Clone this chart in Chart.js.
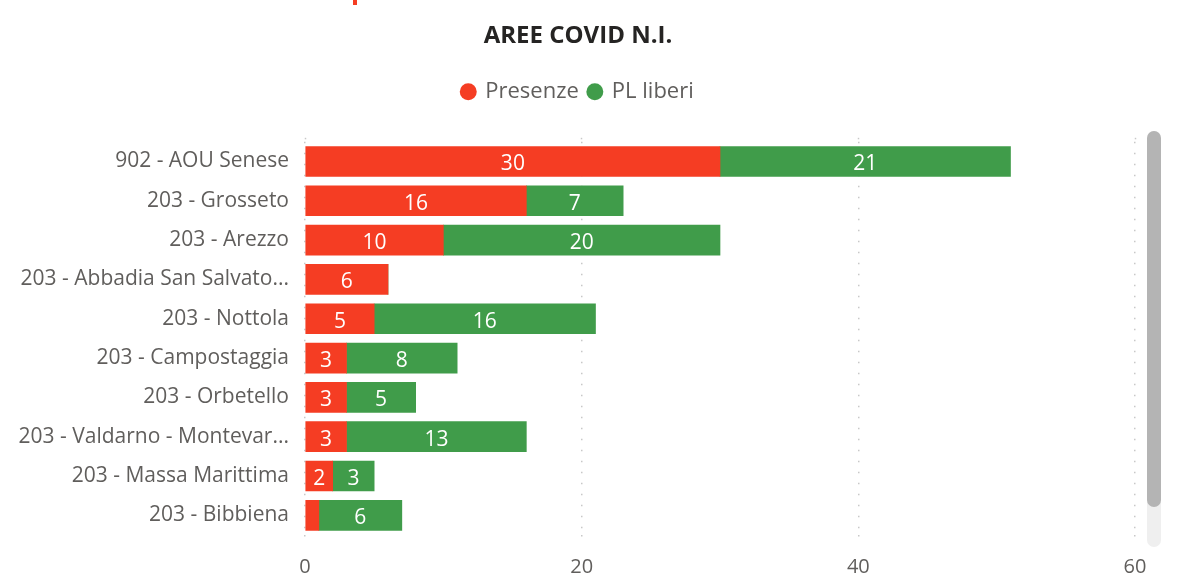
<!DOCTYPE html>
<html>
<head>
<meta charset="utf-8">
<title>Aree Covid N.I.</title>
<script src="https://cdn.jsdelivr.net/npm/chart.js@4.4.0/dist/chart.umd.min.js"></script>
<style>
    body { margin: 0; background: #fff; overflow: hidden; width: 1194px; height: 574px; position: relative; }
    #wrap { position: absolute; left: 0; top: 0; width: 1156px; height: 590px; }
    /* cut-off element above the visual */
    #topMark { position: absolute; left: 353px; top: 0; width: 4px; height: 5px; background: #F53D23; }
    /* scroll bar of the visual */
    #track { position: absolute; left: 1147px; top: 131px; width: 14px; height: 416px; background: #efefef; border-radius: 7px; }
    #thumb { position: absolute; left: 1147px; top: 131px; width: 14px; height: 376px; background: #b4b4b4; border-radius: 7px; }
</style>
</head>
<body>
<div id="topMark"></div>
<div id="wrap"><canvas id="covidChart"></canvas></div>
<div id="track"></div>
<div id="thumb"></div>
<script>
// Data
const categories = [
    '902 - AOU Senese',
    '203 - Grosseto',
    '203 - Arezzo',
    '203 - Abbadia San Salvato...',
    '203 - Nottola',
    '203 - Campostaggia',
    '203 - Orbetello',
    '203 - Valdarno - Montevar...',
    '203 - Massa Marittima',
    '203 - Bibbiena'
];
const presenze = [30, 16, 10, 6, 5, 3, 3, 3, 2, 1];
const plLiberi = [21, 7, 20, 0, 16, 8, 5, 13, 3, 6];
const xTicks = [0, 20, 40, 60];

const RED = '#F53D23';
const GREEN = '#409C4A';
const GREY_TEXT = '#605E5C';
const GRID = '#c8c8c8';
const DOTS = [1.5, 9.5];
const FONT = "'Open Sans', 'Noto Sans', sans-serif";

// White value labels inside each bar segment
const valueLabels = {
    id: 'valueLabels',
    afterDatasetsDraw(chart) {
        const ctx = chart.ctx;
        ctx.save();
        ctx.fillStyle = '#fff';
        ctx.font = `21px ${FONT}`;
        ctx.textAlign = 'center';
        ctx.textBaseline = 'middle';
        chart.data.datasets.forEach((ds, i) => {
            const meta = chart.getDatasetMeta(i);
            meta.data.forEach((bar, j) => {
                const v = ds.data[j];
                if (!v) return;
                const w = Math.abs(bar.x - bar.base);
                if (w < 20) return;
                ctx.fillText(String(v), (bar.x + bar.base) / 2, bar.y + 3);
            });
        });
        ctx.restore();
    }
};

document.addEventListener('DOMContentLoaded', () => {
    const ctx = document.getElementById('covidChart');
    new Chart(ctx, {
        type: 'bar',
        data: {
            labels: categories,
            datasets: [
                { label: 'Presenze', data: presenze, backgroundColor: RED, barThickness: 30, xAxisID: 'x', yAxisID: 'y' },
                { label: 'PL liberi', data: plLiberi, backgroundColor: GREEN, barThickness: 30, xAxisID: 'x', yAxisID: 'y' }
            ]
        },
        options: {
            indexAxis: 'y',
            responsive: true,
            maintainAspectRatio: false,
            animation: false,
            layout: { padding: { left: 0, right: 0, top: 0, bottom: 5 } },
            plugins: {
                title: {
                    display: true,
                    text: 'AREE COVID N.I.',
                    color: '#252423',
                    font: { family: FONT, size: 24, weight: 'bold' },
                    padding: { top: 22, bottom: 20 }
                },
                legend: {
                    display: true,
                    labels: {
                        usePointStyle: true,
                        pointStyle: 'circle',
                        boxWidth: 12,
                        boxHeight: 12,
                        color: GREY_TEXT,
                        font: { family: FONT, size: 22 },
                        padding: 10
                    }
                },
                tooltip: { enabled: false }
            },
            scales: {
                x: {
                    stacked: true,
                    min: 0,
                    max: 60,
                    afterBuildTicks: (scale) => {
                        scale.ticks = xTicks.map(v => ({ value: v }));
                    },
                    afterFit: (scale) => { scale.height = 50; },
                    border: { display: false, dash: DOTS },
                    grid: {
                        color: GRID,
                        lineWidth: 1.5,
                        drawTicks: true,
                        tickLength: 11,
                        tickColor: GRID,
                        tickWidth: 1.5,
                        tickBorderDash: DOTS
                    },
                    ticks: {
                        color: GREY_TEXT,
                        font: { family: FONT, size: 20 },
                        padding: 9
                    }
                },
                // spacer axis on top: only short dotted stubs above the plot
                xTop: {
                    position: 'top',
                    min: 0,
                    max: 60,
                    afterBuildTicks: (scale) => {
                        scale.ticks = xTicks.map(v => ({ value: v }));
                    },
                    afterFit: (scale) => { scale.height = 29; },
                    border: { display: false },
                    grid: {
                        drawOnChartArea: false,
                        drawTicks: true,
                        tickLength: 4,
                        tickColor: GRID,
                        tickWidth: 1.5,
                        tickBorderDash: DOTS
                    },
                    ticks: { display: false }
                },
                y: {
                    stacked: true,
                    afterFit: (scale) => { scale.width = 305; },
                    border: { display: false },
                    grid: { display: false },
                    ticks: {
                        color: GREY_TEXT,
                        font: { family: FONT, size: 21 },
                        padding: 8
                    }
                },
                // empty spacer on the right so the title stays centred on the whole visual
                yRight: {
                    type: 'category',
                    position: 'right',
                    afterFit: (scale) => { scale.width = 21; },
                    border: { display: false },
                    grid: { display: false },
                    ticks: { display: false }
                }
            }
        },
        plugins: [valueLabels]
    });
});
</script>
</body>
</html>
